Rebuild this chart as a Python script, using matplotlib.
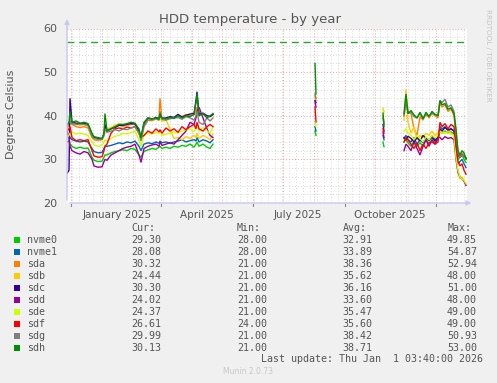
import matplotlib
matplotlib.use('Agg')
import matplotlib.pyplot as plt
import matplotlib.dates as mdates
from datetime import datetime, timedelta

nan = float('nan')

end_time = datetime(2026, 1, 1, 3, 40)
start_time = end_time - timedelta(days=400)

# sample points, in days after start_time; nan rows break the line at the gaps
days = [0, 2, 3, 5, 9, 13, 17, 21, 25, 27, 31, 35, 37, 38, 40, 44, 48, 52, 56, 60,
        64, 68, 72, 74, 77, 81, 85, 89, 92, 93, 95, 99, 103, 107, 111, 115, 119, 123,
        127, 129, 130, 132, 136, 140, 143, 146,
        147,
        248, 249,
        250,
        316, 317,
        318,
        337, 339, 341, 344, 347, 350, 353, 356, 359, 362, 365, 368, 371, 373, 375,
        378, 381, 384, 387, 389, 391, 393, 395, 397, 399]

nvme0 = [34, 34.2, 33.5, 33, 32.5, 32.8, 32.5, 32.6, 30.5, 29.8, 29.5, 29.6, 30.5, 31, 31, 31.5,
         31.8, 32, 32.2, 32, 32.5, 32.3, 31, 30.5, 31.8, 32.2, 32.5, 32.3, 32.8, 33, 32.5, 32.8,
         32.5, 33, 32.8, 33.2, 33, 33.5, 32.8, 33.5, 34, 33, 33.5, 32.8, 32.5, 33.5,
         nan, 36.5, 35.5, nan, 34, 32.9, nan,
         34, 34.5, 33.8, 33, 34.2, 33, 33.8, 33, 34.5, 33.5, 34.5, 34, 34.5, 36.5, 36, 36.5,
         36, 36.3, 35.8, 33, 30, 30.5, 31, 30, 29.3]
nvme1 = [35, 35.5, 35, 34.5, 34.2, 34, 34.2, 34, 32.5, 31.8, 31.5, 31.6, 32.5, 33, 33, 33.2,
         33.5, 33.8, 33.6, 34, 33.8, 34.2, 33, 32, 33.5, 33.8, 33.6, 34, 33.7, 34.2, 33.8, 34,
         33.7, 34, 34.2, 34.5, 34, 34.3, 34.5, 34.2, 35, 34, 34.5, 34.2, 33.8, 34.5,
         nan, 37.5, 36.5, nan, 35.5, 34.5, nan,
         34.8, 35.5, 34.5, 34, 35, 33.5, 34.5, 33.8, 35, 34.2, 35.5, 34.5, 35, 37.5, 37, 37.5,
         36.5, 37, 36.5, 32, 29, 29.5, 30, 29, 28.1]
sda = [37, 38, 38.5, 38, 37.5, 37.3, 37.5, 37.2, 35, 34.5, 34.3, 34.5, 35.5, 37, 36.8, 37.2,
       37.5, 37.8, 37.6, 37.8, 38, 38, 36.5, 35, 38, 39.3, 39, 39.5, 39.5, 44, 39, 39.2,
       39.5, 39.6, 40.2, 39.8, 40.3, 40, 40.2, 41, 42, 40.5, 40.3, 40, 39.8, 40.2,
       nan, 44.5, 43.5, nan, 40, 38.5, nan,
       40, 44.5, 41, 40.5, 37, 35.5, 39.8, 39, 40.5, 39.5, 40.5, 40, 39.5, 43, 42, 42.5,
       41, 41.5, 40, 35, 31, 30.5, 31.5, 31, 30.3]
sdb = [38, 38.3, 38.8, 38.4, 38, 37.8, 38, 37.5, 35.5, 34.8, 34.5, 34.5, 35.5, 36.5, 37, 37.3,
       37.8, 38.2, 38, 37.8, 38.3, 38, 36, 34.5, 37.5, 39, 38.8, 39.2, 39, 39.5, 38.8, 39,
       37, 34.8, 35, 34.5, 35.2, 34.8, 35.5, 35, 36, 34.8, 35.5, 35, 34.5, 35.8,
       nan, 44, 43.5, nan, 41.7, 41, nan,
       39, 46, 38.5, 36, 37.5, 34.5, 35.5, 35, 36, 35.5, 36.5, 35.5, 36, 37, 36.5, 36,
       36.5, 36, 35.5, 31, 27, 25.5, 26, 25, 24.4]
sdc = [26.8, 27.5, 44, 38.5, 38.3, 38.2, 38.3, 38, 35.5, 35, 34.8, 34.7, 35.8, 38, 36.5, 37,
       37.3, 37.8, 37.8, 38, 38.2, 38.1, 36.5, 34.8, 38.3, 39.5, 39.2, 39.6, 39.3, 40, 39.4, 39.5,
       39.8, 39.6, 40.3, 39.7, 40.1, 40.4, 40.5, 43.5, 45.5, 40.3, 40.6, 40, 39.8, 40.3,
       nan, 43.5, 43, nan, 38, 36.5, nan,
       35, 34.5, 35.3, 34.8, 34, 35, 34.2, 35.5, 34.8, 34.5, 35, 34.3, 35, 37, 36.5, 37.3,
       36.8, 37, 36.5, 33.5, 31, 30.5, 31, 30.8, 30.3]
sdd = [36.5, 35, 33, 32, 31.5, 31.2, 31.8, 31.5, 30, 28.5, 28.2, 28.3, 29.5, 30, 29.8, 31,
       31.5, 32, 32.5, 32.8, 33, 33.5, 31, 29.3, 32.5, 33, 33.3, 33.5, 33, 34, 33.2, 33.5,
       33.8, 33.5, 34.5, 35.5, 36.5, 38.5, 38, 39.5, 41, 42, 39.5, 37, 35.5, 35,
       nan, 43.2, 42, nan, 36.3, 35, nan,
       32, 33.5, 33, 32, 34, 32.5, 31, 33, 34.5, 33, 34.5, 33.5, 35, 35, 34.5, 35.2,
       34.8, 35, 34.5, 30, 27, 26, 25.5, 25, 24]
sde = [35, 35.5, 36, 36.3, 35.8, 36, 35.8, 35.5, 34, 33.3, 33, 33.2, 34, 34.5, 34.2, 34.8,
       35.3, 35.5, 36, 35.8, 36.2, 36.5, 34.5, 33, 35.5, 36, 35.8, 36.2, 36, 36.5, 35.5, 35.8,
       36, 36.3, 36, 36.5, 36.8, 37, 36.3, 37.5, 38, 36.5, 37.3, 36.5, 36, 37.5,
       nan, 38.5, 37.5, nan, 41.2, 40.5, nan,
       36.5, 37, 36, 35.5, 34.5, 35.5, 34.8, 34, 35.2, 34.5, 35.5, 35, 35.5, 36.5, 36, 36.2,
       36, 35.8, 35.5, 30.5, 27.5, 26, 25.5, 25.2, 24.4]
sdf = [36.5, 37, 37.5, 35, 34.3, 34.5, 34.3, 34.5, 32, 30.8, 30.5, 30.6, 32, 33, 33.5, 36,
       37, 37.2, 37, 37.4, 37.2, 37.5, 36, 35, 35.5, 36.5, 36, 37, 36.3, 36.8, 36, 37.2,
       36.5, 37, 36.2, 37.5, 36.8, 37.5, 38, 37, 38.5, 37, 36.5, 37.5, 38, 37.5,
       nan, 42, 38.6, nan, 37, 36, nan,
       34, 35, 34.5, 33.5, 32.5, 33.8, 32, 33.5, 32.5, 33.8, 34, 33.5, 34, 38.5, 37.5, 38.2,
       37, 38, 37.5, 33, 29.5, 28.5, 29, 27.5, 26.6]
sdg = [38, 38.4, 38.6, 38.2, 38, 38.1, 38, 37.8, 35.3, 34.8, 34.6, 34.6, 35.5, 37, 36.2, 36.5,
       36.8, 36.5, 37, 36.8, 37.2, 37.5, 36, 34.2, 37.5, 39, 39, 39.3, 39, 41, 39.2, 39,
       39.3, 39.5, 39.6, 39.2, 39.8, 39.5, 39, 40, 41, 38.5, 38, 39.5, 38.8, 39.5,
       nan, 45, 44, nan, 39.5, 38, nan,
       40, 43, 40.5, 40.8, 39.8, 39.5, 40.5, 39.5, 40.2, 40, 40.6, 40.3, 40, 43.5, 43, 43.8,
       42, 42.5, 41, 36, 31.5, 30.5, 31, 30.8, 30]
sdh = [37.8, 38.5, 41, 38.5, 38.8, 38.3, 38.5, 38.2, 36, 35.2, 35, 34.8, 36, 40.5, 36.5, 37,
       37.5, 38, 38, 38.2, 38.5, 38.3, 37, 35, 38.5, 39.5, 39.3, 39.5, 39.2, 40.5, 39.5, 39.3,
       39.6, 39.4, 40, 39.5, 40, 39.8, 40.3, 43, 45, 40, 40.5, 39.5, 40, 40.5,
       nan, 52, 45, nan, 40.6, 37.5, nan,
       40.5, 45, 40.5, 41.2, 40.2, 39.5, 40.8, 39.3, 40.8, 39.8, 41, 40.3, 40, 43.5, 42.5, 42.8,
       41.5, 41.8, 40.5, 37, 32, 31, 32, 31.5, 30.1]

names = ['nvme0', 'nvme1', 'sda', 'sdb', 'sdc', 'sdd', 'sde', 'sdf', 'sdg', 'sdh']
colors = ['#00CC00', '#0066B3', '#FF8000', '#FFCC00', '#330099',
          '#990099', '#CCFF00', '#FF0000', '#808080', '#008F00']
series = [nvme0, nvme1, sda, sdb, sdc, sdd, sde, sdf, sdg, sdh]

cur = ['29.30', '28.08', '30.32', '24.44', '30.30', '24.02', '24.37', '26.61', '29.99', '30.13']
mins = ['28.00', '28.00', '21.00', '21.00', '21.00', '21.00', '21.00', '24.00', '21.00', '21.00']
avgs = ['32.91', '33.89', '38.36', '35.62', '36.16', '33.60', '35.47', '35.60', '38.42', '38.71']
maxs = ['49.85', '54.87', '52.94', '48.00', '51.00', '48.00', '49.00', '49.00', '50.93', '53.00']

warning = 57
month_labels = ['January 2025', 'April 2025', 'July 2025', 'October 2025']
label_dates = [datetime(2025, 1, 16), datetime(2025, 4, 16), datetime(2025, 7, 16), datetime(2025, 10, 16)]
quarter_ticks = [datetime(2024, 12, 1), datetime(2025, 3, 1), datetime(2025, 6, 1),
                 datetime(2025, 9, 1), datetime(2025, 12, 1)]

W, H = 497, 383
txt = '#555555'
fig = plt.figure(figsize=(W / 100, H / 100), dpi=100)
fig.patch.set_facecolor('#F0F0F0')

# plot area in pixels: x 67..467, y 28.5..203
ax = fig.add_axes([67 / W, 1 - 203 / H, 400 / W, 174.5 / H])
ax.set_facecolor('white')
for s in ax.spines.values():
    s.set_visible(False)

times = [start_time + timedelta(days=d) for d in days]
for vals, c in zip(series, colors):
    ax.plot(times, vals, color=c, lw=1.0, solid_joinstyle='miter')

ax.axhline(warning, color='#22AA22', lw=1.0, dashes=(5, 3.5))

ax.set_xlim(start_time, end_time)
ax.set_ylim(20, 60)
ax.xaxis.set_major_locator(mdates.MonthLocator())
ax.xaxis.set_minor_locator(mdates.WeekdayLocator(byweekday=mdates.MO))
ax.set_yticks(range(20, 61, 10))
ax.set_yticks(range(20, 61, 2), minor=True)
ax.grid(which='minor', color='#D8D8D8', linestyle=(0, (1, 2)), lw=0.7)
ax.grid(which='major', color='#E8A0A0', linestyle=(0, (1, 2)), lw=0.7)
ax.set_axisbelow(True)
ax.tick_params(axis='x', which='both', length=0, labelbottom=False)
ax.tick_params(axis='y', which='both', length=0, labelsize=8, labelcolor=txt, pad=7)

for lab, d in zip(month_labels, label_dates):
    ax.text(d, -0.04, lab, transform=ax.get_xaxis_transform(), ha='center', va='top',
            fontsize=7.5, color=txt)
for d in quarter_ticks:
    ax.plot([d, d], [-0.005, -0.02], transform=ax.get_xaxis_transform(), color='#888888',
            lw=0.8, clip_on=False)

# rrdtool style axes with arrow heads
axis_col = '#C8C8F0'
ax.annotate('', xy=(0, 1.07), xytext=(0, 0), xycoords='axes fraction',
            arrowprops=dict(arrowstyle='-|>', color=axis_col, lw=1.0, mutation_scale=7))
ax.annotate('', xy=(1.018, 0), xytext=(0, 0), xycoords='axes fraction',
            arrowprops=dict(arrowstyle='-|>', color=axis_col, lw=1.0, mutation_scale=7))

fig.text(250 / W, 1 - 19 / H, 'HDD temperature - by year', ha='center', va='center',
         fontsize=9.5, color=txt)
fig.text(11 / W, 1 - 114 / H, 'Degrees Celsius', rotation=90, ha='center', va='center',
         fontsize=8, color=txt)
fig.text(488 / W, 1 - 55 / H, 'RRDTOOL / TOBI OETIKER', rotation=270, ha='center', va='center',
         fontsize=5.2, color='#C4C4C4')

mono = 'DejaVu Sans Mono'
fs = 7.2
def px(x, y):
    return x / W, 1 - y / H

for hx, h in zip([131, 237, 343, 448], ['Cur:', 'Min:', 'Avg:', 'Max:']):
    fig.text(*px(hx, 228), h, ha='left', va='center', family=mono, fontsize=fs, color=txt)

for i, name in enumerate(names):
    y = 240 + 12 * i
    fig.patches.append(plt.Rectangle(px(14, y + 3), 6 / W, 6 / H, transform=fig.transFigure,
                                     facecolor=colors[i], edgecolor='none'))
    fig.text(*px(27, y), name, ha='left', va='center', family=mono, fontsize=fs, color=txt)
    for rx, col in zip([161, 267, 372, 477], [cur, mins, avgs, maxs]):
        fig.text(*px(rx, y), col[i], ha='right', va='center', family=mono, fontsize=fs, color=txt)

fig.text(*px(483, 359), 'Last update: Thu Jan  1 03:40:00 2026', ha='right', va='center',
         family=mono, fontsize=fs, color=txt)
fig.text(*px(248, 372), 'Munin 2.0.73', ha='center', va='center', fontsize=5.5, color='#C8C8C8')

fig.savefig('out.png', dpi=100, facecolor=fig.get_facecolor())
